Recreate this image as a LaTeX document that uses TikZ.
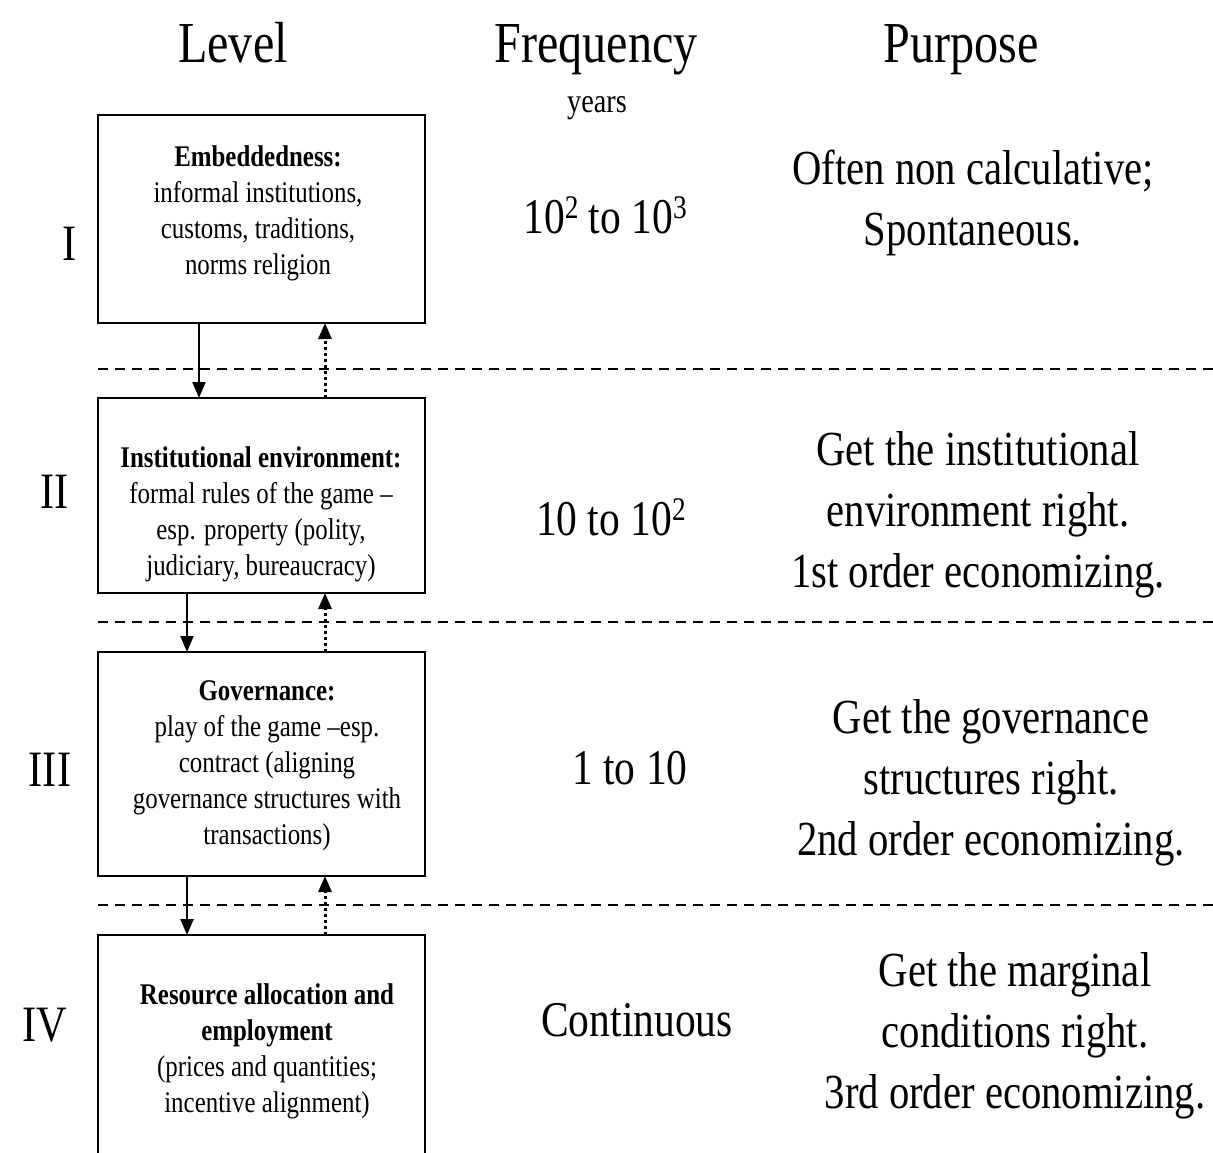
\documentclass[tikz,border=0pt]{standalone}
\usepackage{fontspec}
\setmainfont{Liberation Serif}[FakeStretch=0.83]
\usetikzlibrary{arrows.meta}
\newcommand{\supnum}[1]{\raisebox{15pt}{\fontsize{33}{33}\selectfont #1}}
\begin{document}
\begin{tikzpicture}[x=1pt,y=-1pt,
  levelbox/.style={draw, line width=2pt, inner sep=0pt, outer sep=0pt, anchor=north west, minimum width=327pt},
  boxtext/.style={align=center, font=\fontsize{30}{36}\selectfont, inner sep=0pt},
  header/.style={font=\fontsize{58}{70}\selectfont, inner sep=0pt, anchor=base},
  roman/.style={font=\fontsize{51}{60}\selectfont, inner sep=0pt},
  freq/.style={font=\fontsize{50}{60}\selectfont, inner sep=0pt},
  purpose/.style={align=center, font=\fontsize{49}{61}\selectfont, inner sep=0pt},
  sep/.style={line width=2pt, dash pattern=on 10pt off 7pt},
  down/.style={line width=2.2pt, -{Triangle[width=13pt,length=16pt]}},
  up/.style={line width=3pt, dash pattern=on 3pt off 3pt, -{Triangle[width=13pt,length=16pt]}}
]
\useasboundingbox (0,0) rectangle (1213,1152);
\clip (0,0) rectangle (1213,1152);

% headers
\node[header] (hl) at (233,62) {Level};
\node[header] (hf) at (596,62) {Frequency};
\node[header] (hp) at (961,62) {Purpose};
\node[font=\fontsize{34}{40}\selectfont, inner sep=0pt, anchor=base] (yr) at (597,112) {years};

% boxes
\node[levelbox, minimum height=208pt] (b1) at (98,115) {};
\node[levelbox, minimum height=195pt] (b2) at (98,398) {};
\node[levelbox, minimum height=224pt] (b3) at (98,652) {};
\node[levelbox, minimum height=240pt] (b4) at (98,935) {};

% box texts
\node[boxtext] (t1) at (258,213) {\textbf{Embeddedness:}\\informal institutions,\\customs, traditions,\\norms religion};
\node[boxtext] (t2) at (261,514) {\textbf{Institutional environment:}\\formal rules of the game –\\esp. property (polity,\\judiciary, bureaucracy)};
\node[boxtext] (t3) at (267,766) {\textbf{Governance:}\\play of the game –esp.\\contract (aligning\\governance structures with\\transactions)};
\node[boxtext] (t4) at (267,1051) {\textbf{Resource allocation and}\\\textbf{employment}\\(prices and quantities;\\incentive alignment)};

% roman numerals
\node[roman] (r1) at (70,244) {I};
\node[roman] (r2) at (55,492) {II};
\node[roman] (r3) at (50,770) {III};
\node[roman] (r4) at (45,1025) {IV};

% frequencies
\node[freq] (f1) at (605,215) {10\supnum{2} to 10\supnum{3}};
\node[freq] (f2) at (611,517) {10 to 10\supnum{2}};
\node[freq] (f3) at (630,768) {1 to 10};
\node[freq] (f4) at (637,1020) {Continuous};

% purposes
\node[purpose] (p1) at (973,203) {Often non calculative;\\Spontaneous.};
\node[purpose] (p2) at (978,515) {Get the institutional\\environment right.\\1st order economizing.};
\node[purpose] (p3) at (991,783) {Get the governance\\structures right.\\2nd order economizing.};
\node[purpose] (p4) at (1015,1036) {Get the marginal\\conditions right.\\3rd order economizing.};

% separators
\coordinate (e1) at (1213,369);
\coordinate (e2) at (1213,622);
\coordinate (e3) at (1213,905);
\draw[sep] (b1.west |- e1) -- (e1);
\draw[sep] (b1.west |- e2) -- (e2);
\draw[sep] (b1.west |- e3) -- (e3);

% arrows
\coordinate (xa) at (199,0);
\coordinate (xb) at (187,0);
\coordinate (xu) at (325,0);
\draw[down] (b1.south -| xa) -- (b2.north -| xa);
\draw[up] (b2.north -| xu) -- (b1.south -| xu);
\draw[down] (b2.south -| xb) -- (b3.north -| xb);
\draw[up] (b3.north -| xu) -- (b2.south -| xu);
\draw[down] (b3.south -| xb) -- (b4.north -| xb);
\draw[up] (b4.north -| xu) -- (b3.south -| xu);
\end{tikzpicture}
\end{document}
